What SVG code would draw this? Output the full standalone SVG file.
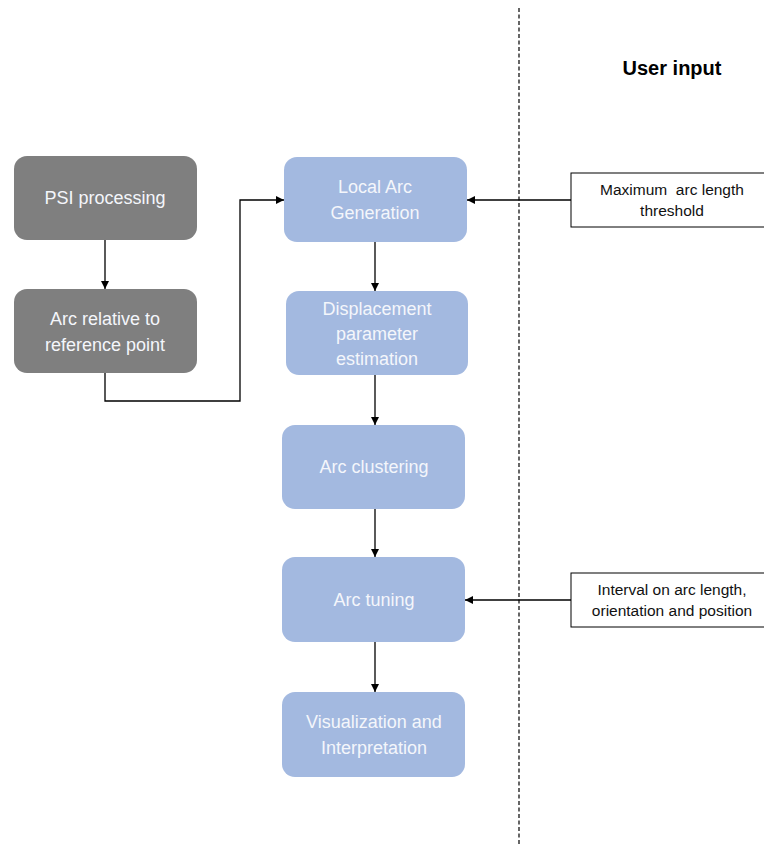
<svg xmlns="http://www.w3.org/2000/svg" width="764" height="845" viewBox="0 0 764 845">
<defs>
<style>
.gray{fill:#7f7f7f}
.blue{fill:#a3b9e0}
.nt{font-family:"Liberation Sans",Arial,sans-serif;font-size:18px;fill:#f4f6fb;text-anchor:middle}
.bt{font-family:"Liberation Sans",Arial,sans-serif;font-size:15.5px;fill:#111;text-anchor:middle}
.ib{fill:#fff;stroke:#000;stroke-width:1}
.c{fill:none;stroke:#000;stroke-width:1.3}
</style>
<marker id="ah" viewBox="0 0 10 10" refX="10" refY="5" markerWidth="8" markerHeight="8" markerUnits="userSpaceOnUse" orient="auto">
<path d="M0,0L10,5L0,10z" fill="#000"/>
</marker>
</defs>
<rect width="764" height="845" fill="#fff"/>
<line x1="519" y1="8" x2="519" y2="845" stroke="#000" stroke-width="1.2" stroke-dasharray="4,2.5"/>
<text x="672" y="75" font-family="Liberation Sans,Arial,sans-serif" font-size="20" font-weight="bold" text-anchor="middle" fill="#000">User input</text>
<g id="psi"><rect class="gray" x="14" y="156" width="183" height="84" rx="13"/><text class="nt" x="105" y="204">PSI processing</text></g>
<g id="arcref"><rect class="gray" x="14" y="289" width="183" height="84" rx="13"/><text class="nt" x="105" y="325">Arc relative to</text><text class="nt" x="105" y="351">reference point</text></g>
<g id="local"><rect class="blue" x="284" y="157" width="183" height="85" rx="13"/><text class="nt" x="375" y="193">Local Arc</text><text class="nt" x="375" y="219">Generation</text></g>
<g id="disp"><rect class="blue" x="286" y="291" width="182" height="84" rx="13"/><text class="nt" x="377" y="315">Displacement</text><text class="nt" x="377" y="340">parameter</text><text class="nt" x="377" y="365">estimation</text></g>
<g id="clust"><rect class="blue" x="282" y="425" width="183" height="84" rx="13"/><text class="nt" x="374" y="473">Arc clustering</text></g>
<g id="tuning"><rect class="blue" x="282" y="557" width="183" height="85" rx="13"/><text class="nt" x="374" y="606">Arc tuning</text></g>
<g id="vis"><rect class="blue" x="282" y="692" width="183" height="85" rx="13"/><text class="nt" x="374" y="728">Visualization and</text><text class="nt" x="374" y="754">Interpretation</text></g>
<g id="maxarc"><rect class="ib" x="571" y="173" width="200" height="54"/><text class="bt" x="672" y="195" xml:space="preserve">Maximum  arc length</text><text class="bt" x="672" y="216">threshold</text></g>
<g id="interval"><rect class="ib" x="571" y="573" width="200" height="54"/><text class="bt" x="672" y="595">Interval on arc length,</text><text class="bt" x="672" y="616">orientation and position</text></g>
<g id="connectors">
<path class="c" d="M105,240V289" marker-end="url(#ah)"/>
<path class="c" d="M105,373V401H240V200H284" marker-end="url(#ah)"/>
<path class="c" d="M375,242V291" marker-end="url(#ah)"/>
<path class="c" d="M375,375V425" marker-end="url(#ah)"/>
<path class="c" d="M375,509V557" marker-end="url(#ah)"/>
<path class="c" d="M375,642V692" marker-end="url(#ah)"/>
<path class="c" d="M571,200H467" marker-end="url(#ah)"/>
<path class="c" d="M571,600H465" marker-end="url(#ah)"/>
</g>
</svg>
